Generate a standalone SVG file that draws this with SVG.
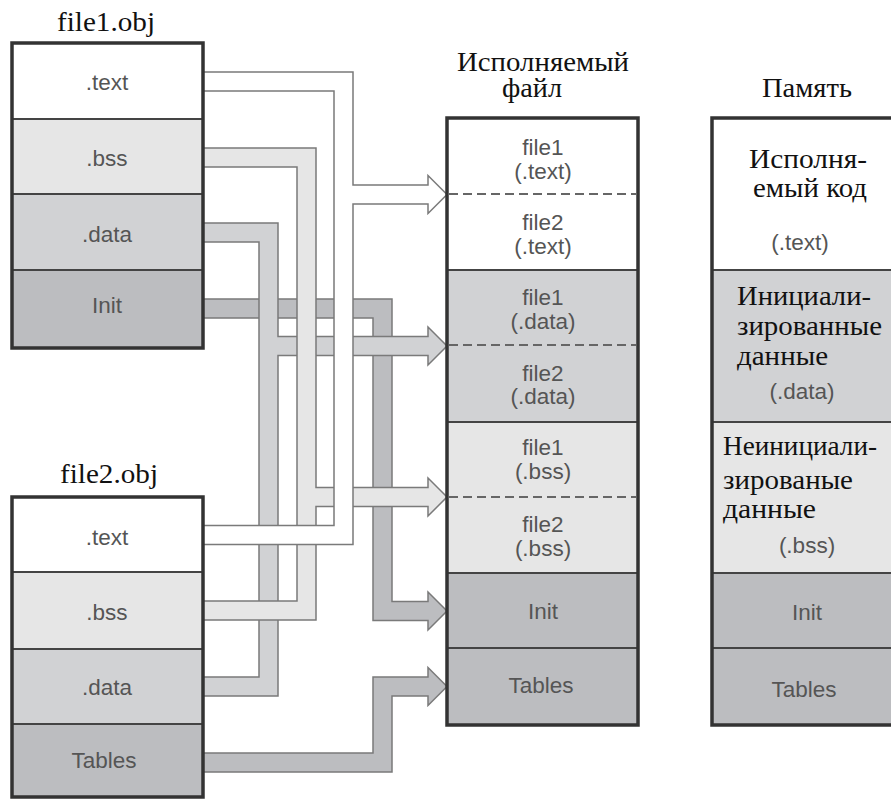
<svg xmlns="http://www.w3.org/2000/svg" width="891" height="799" viewBox="0 0 891 799">
<style>
.bg{fill:#ffffff}
.c{stroke:#7a7a7a;stroke-width:1.5;stroke-linejoin:miter}
.w{fill:#ffffff}
.l{fill:#e6e6e6}
.m{fill:#d1d2d4}
.d{fill:#bcbdc0}
.frame{fill:none;stroke:#333333;stroke-width:3.5}
.div{stroke:#444444;stroke-width:2}
.dash{stroke:#666666;stroke-width:2;stroke-dasharray:9 5}
.s{font-family:'Liberation Sans',Arial,sans-serif;font-size:22.5px;fill:#555555;text-anchor:middle}
.t{font-family:'Liberation Serif','DejaVu Serif',serif;font-size:27px;fill:#111111}
.mid{text-anchor:middle}
</style>
<rect class="bg" x="0" y="0" width="891" height="799"/>
<g id="connectors">
<path class="c d" d="M203,299 H392 V601.5 H428 V592 L447,611 L428,630 V620.5 H373 V318 H203 Z"/>
<path class="c d" d="M203,753 H373 V677 H428 V667.5 L447,686.5 L428,705.5 V696 H392 V772 H203 Z"/>
<path class="c m" d="M203,223 H278 V336.5 H428 V327 L447,346 L428,365 V355.5 H278 V696 H203 V677 H259 V242 H203 Z"/>
<path class="c l" d="M203,148 H316 V487.5 H428 V478 L447,497 L428,516 V506.5 H316 V620 H203 V601 H297 V167 H203 Z"/>
<path class="c w" d="M203,72 H353 V185 H428 V175.5 L447,194.5 L428,213.5 V204 H353 V544.5 H203 V525.5 H334 V91 H203 Z"/>
</g>
<g id="file1">
<text class="t mid" x="106" y="31" textLength="98" lengthAdjust="spacingAndGlyphs">file1.obj</text>
<rect class="w" x="12" y="43" width="191" height="76"/>
<rect class="l" x="12" y="119" width="191" height="75"/>
<rect class="m" x="12" y="194" width="191" height="76"/>
<rect class="d" x="12" y="270" width="191" height="78"/>
<line class="div" x1="12" y1="119" x2="203" y2="119"/>
<line class="div" x1="12" y1="194" x2="203" y2="194"/>
<line class="div" x1="12" y1="270" x2="203" y2="270"/>
<rect class="frame" x="12" y="43" width="191" height="305"/>
<text class="s" x="107" y="90">.text</text>
<text class="s" x="107" y="166">.bss</text>
<text class="s" x="107" y="242">.data</text>
<text class="s" x="107" y="313">Init</text>
</g>
<g id="file2">
<text class="t mid" x="109" y="483" textLength="98" lengthAdjust="spacingAndGlyphs">file2.obj</text>
<rect class="w" x="12" y="497" width="191" height="75"/>
<rect class="l" x="12" y="572" width="191" height="77"/>
<rect class="m" x="12" y="649" width="191" height="75"/>
<rect class="d" x="12" y="724" width="191" height="73"/>
<line class="div" x1="12" y1="572" x2="203" y2="572"/>
<line class="div" x1="12" y1="649" x2="203" y2="649"/>
<line class="div" x1="12" y1="724" x2="203" y2="724"/>
<rect class="frame" x="12" y="497" width="191" height="300"/>
<text class="s" x="107" y="545">.text</text>
<text class="s" x="107" y="620">.bss</text>
<text class="s" x="107" y="695">.data</text>
<text class="s" x="104" y="768">Tables</text>
</g>
<g id="exe">
<text class="t mid" x="543" y="71" textLength="172" lengthAdjust="spacingAndGlyphs">Исполняемый</text>
<text class="t mid" x="532" y="97" textLength="60" lengthAdjust="spacingAndGlyphs">файл</text>
<rect class="w" x="447" y="118" width="191" height="152"/>
<rect class="m" x="447" y="270" width="191" height="152"/>
<rect class="l" x="447" y="422" width="191" height="151"/>
<rect class="d" x="447" y="573" width="191" height="152"/>
<line class="dash" x1="449" y1="194" x2="636" y2="194"/>
<line class="dash" x1="449" y1="345" x2="636" y2="345"/>
<line class="dash" x1="449" y1="497" x2="636" y2="497"/>
<line class="div" x1="447" y1="270" x2="638" y2="270"/>
<line class="div" x1="447" y1="422" x2="638" y2="422"/>
<line class="div" x1="447" y1="573" x2="638" y2="573"/>
<line class="div" x1="447" y1="648" x2="638" y2="648"/>
<rect class="frame" x="447" y="118" width="191" height="607"/>
<text class="s" x="543" y="155">file1</text>
<text class="s" x="543" y="179">(.text)</text>
<text class="s" x="543" y="230">file2</text>
<text class="s" x="543" y="254">(.text)</text>
<text class="s" x="543" y="305">file1</text>
<text class="s" x="543" y="329">(.data)</text>
<text class="s" x="543" y="381">file2</text>
<text class="s" x="543" y="404">(.data)</text>
<text class="s" x="543" y="455">file1</text>
<text class="s" x="543" y="479">(.bss)</text>
<text class="s" x="543" y="532">file2</text>
<text class="s" x="543" y="556">(.bss)</text>
<text class="s" x="543" y="619">Init</text>
<text class="s" x="541" y="693">Tables</text>
</g>
<g id="memory">
<rect class="w" x="712" y="118" width="190" height="152"/>
<rect class="m" x="712" y="270" width="190" height="152"/>
<rect class="l" x="712" y="422" width="190" height="151"/>
<rect class="d" x="712" y="573" width="190" height="152"/>
<line class="div" x1="712" y1="270" x2="902" y2="270"/>
<line class="div" x1="712" y1="422" x2="902" y2="422"/>
<line class="div" x1="712" y1="573" x2="902" y2="573"/>
<line class="div" x1="712" y1="648" x2="902" y2="648"/>
<rect class="frame" x="712" y="118" width="190" height="607"/>
<text class="t mid" x="807" y="97" textLength="90" lengthAdjust="spacingAndGlyphs">Память</text>
<text class="t mid" x="808" y="168" textLength="118" lengthAdjust="spacingAndGlyphs">Исполня-</text>
<text class="t mid" x="810" y="197" textLength="114" lengthAdjust="spacingAndGlyphs">емый код</text>
<text class="t" x="737" y="305" textLength="134" lengthAdjust="spacingAndGlyphs">Инициали-</text>
<text class="t" x="737" y="335" textLength="145" lengthAdjust="spacingAndGlyphs">зированные</text>
<text class="t" x="737" y="365" textLength="91" lengthAdjust="spacingAndGlyphs">данные</text>
<text class="t" x="723" y="455" textLength="154" lengthAdjust="spacingAndGlyphs">Неинициали-</text>
<text class="t" x="723" y="489" textLength="130" lengthAdjust="spacingAndGlyphs">зированые</text>
<text class="t" x="723" y="518" textLength="93" lengthAdjust="spacingAndGlyphs">данные</text>
<text class="s" x="800" y="250">(.text)</text>
<text class="s" x="802" y="399">(.data)</text>
<text class="s" x="807" y="553">(.bss)</text>
<text class="s" x="807" y="620">Init</text>
<text class="s" x="804" y="697">Tables</text>
</g>
</svg>
